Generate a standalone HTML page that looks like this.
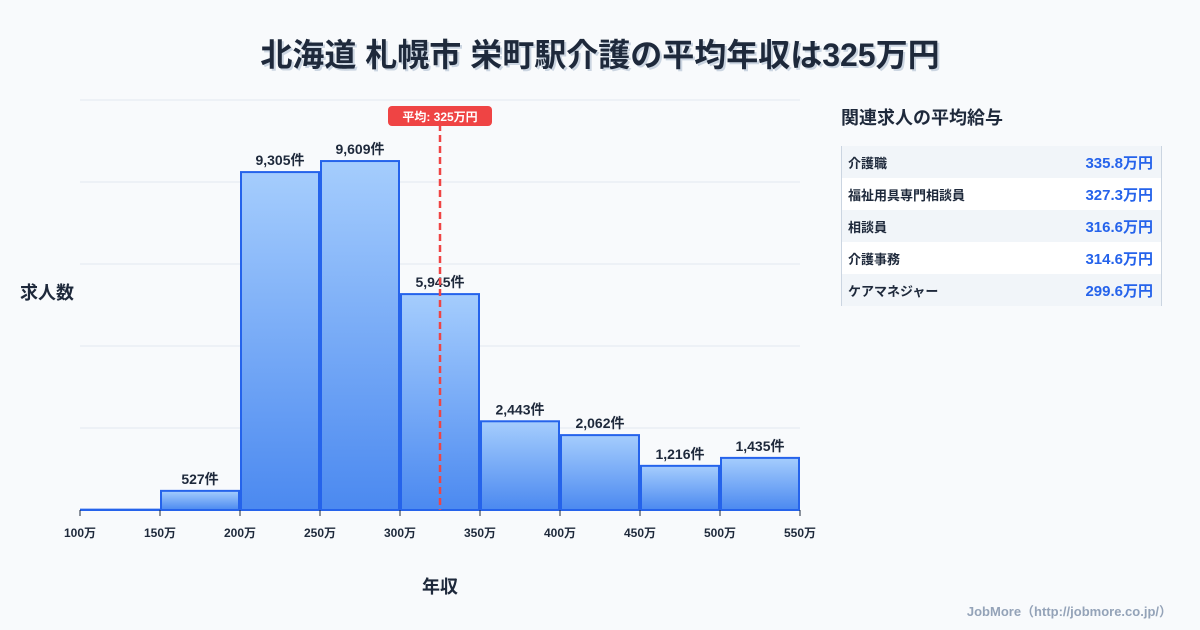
<!DOCTYPE html>
<html><head><meta charset="utf-8">
<style>
body{margin:0;width:1200px;height:630px;background:#f8fafc;font-family:"Liberation Sans","Noto Sans CJK JP",sans-serif;overflow:hidden;position:relative;color:#1e293b}
#title{position:absolute;top:30px;left:0;width:1200px;text-align:center;font-size:32px;font-weight:bold;color:#1e293b;text-shadow:2px 2px 0 #cbd5e1}
#side-title{position:absolute;left:841px;top:104px;font-size:18px;font-weight:bold}
#tbl{position:absolute;left:841px;top:146px;width:319px;border-left:1px solid #cbd5e1;border-right:1px solid #cbd5e1}
.row{height:32px;display:flex;justify-content:space-between;align-items:center;padding:0 8px 0 6px;font-size:13px;font-weight:bold}
.row:nth-child(odd){background:#f1f5f9}
.row:nth-child(even){background:#fff}
.row span.v{color:#2563eb;font-size:15px}
#credit{position:absolute;right:28px;bottom:10px;font-size:13px;color:#94a3b8;font-weight:bold}
</style></head><body>
<div id="title">北海道 札幌市 栄町駅介護の平均年収は325万円</div>
<svg id="chart" width="830" height="630" style="position:absolute;left:0;top:0"></svg>
<div id="side-title">関連求人の平均給与</div>
<div id="tbl">
<div class="row"><span>介護職</span><span class="v">335.8万円</span></div>
<div class="row"><span>福祉用具専門相談員</span><span class="v">327.3万円</span></div>
<div class="row"><span>相談員</span><span class="v">316.6万円</span></div>
<div class="row"><span>介護事務</span><span class="v">314.6万円</span></div>
<div class="row"><span>ケアマネジャー</span><span class="v">299.6万円</span></div>
</div>
<div id="credit">JobMore（http://jobmore.co.jp/）</div>
<script>
const binStarts=[100,150,200,250,300,350,400,450,500];
const counts=[10,527,9305,9609,5945,2443,2062,1216,1435];
const xTicks=[100,150,200,250,300,350,400,450,500,550];
const avg=325;
const yMax=11290;
const NS="http://www.w3.org/2000/svg";
const svg=document.getElementById('chart');
const x=v=>80+(v-100)*1.6;
const y=v=>510-v/yMax*410;
function mk(t,a,txt){const e=document.createElementNS(NS,t);for(const k in a)e.setAttribute(k,a[k]);if(txt!==undefined)e.textContent=txt;svg.appendChild(e);return e;}
const defs=mk('defs',{});
defs.innerHTML='<linearGradient id="g" x1="0" y1="0" x2="0" y2="1"><stop offset="0" stop-color="#a5cdfd"/><stop offset="1" stop-color="#4b89f0"/></linearGradient>';
for(let i=1;i<=5;i++){const g=mk('line',{x1:80,x2:800,y1:y(yMax*i/5),y2:y(yMax*i/5),stroke:'#e2e8f0','stroke-width':1});
}
binStarts.forEach((b,i)=>{
 const r=mk('rect',{x:x(b)+1,y:y(counts[i]),width:x(b+50)-x(b)-2,height:510-y(counts[i]),fill:'url(#g)',stroke:'#2563eb','stroke-width':2});
 
 if(counts[i]>100){const t=mk('text',{x:(x(b)+x(b+50))/2,y:y(counts[i])-7,'text-anchor':'middle','font-size':14,'font-weight':'bold',fill:'#1e293b'},counts[i].toLocaleString()+'件');
 }
});
xTicks.forEach(v=>{
 const l=mk('line',{x1:x(v),x2:x(v),y1:510,y2:516,stroke:'#1e293b','stroke-width':1});
 
 const t=mk('text',{x:x(v),y:537,'text-anchor':'middle','font-size':12,'font-weight':'bold',fill:'#1e293b'},v+'万');
 
});
const al=mk('line',{x1:x(avg),x2:x(avg),y1:124,y2:510,stroke:'#ef4444','stroke-width':2.5,'stroke-dasharray':'7,4'});

const ab=mk('rect',{x:x(avg)-52,y:106,width:104,height:20,rx:4,fill:'#ef4444'});

const at=mk('text',{x:x(avg),y:121,'text-anchor':'middle','font-size':12,'font-weight':'bold',fill:'#fff'},'平均: '+avg+'万円');

const yt=mk('text',{x:20,y:299,'font-size':18,'font-weight':'bold',fill:'#1e293b'},'求人数');

const xt=mk('text',{x:440,y:593,'text-anchor':'middle','font-size':18,'font-weight':'bold',fill:'#1e293b'},'年収');

</script>
</body></html>
